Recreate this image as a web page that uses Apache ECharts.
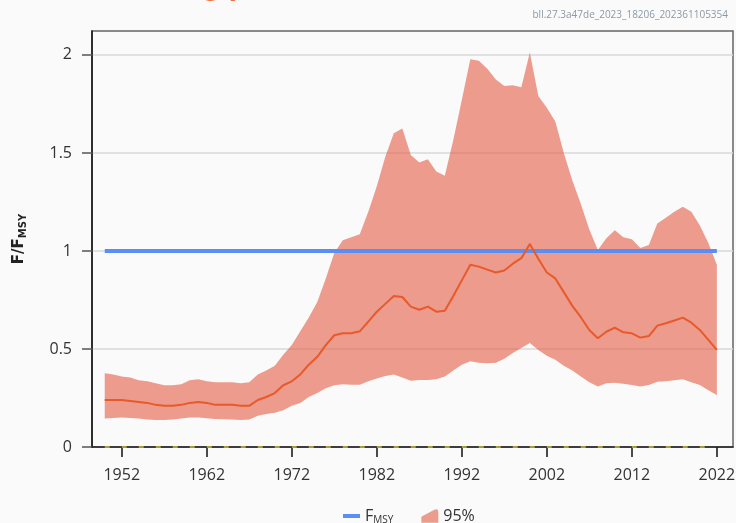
<!DOCTYPE html>
<html>
<head>
    <meta charset="UTF-8">
    <title>F/FMSY</title>
    <script src="https://cdn.jsdelivr.net/npm/echarts@6/dist/echarts.min.js"></script>
    <style>
        html, body { margin: 0; padding: 0; background: #fafafa; }
        #main { width: 736px; height: 523px; }
    </style>
</head>
<body>
    <div id="main"></div>
    <script type="text/javascript">
        // years of the assessment
        const years = [
            1950, 1951, 1952, 1953, 1954, 1955, 1956, 1957, 1958, 1959,
            1960, 1961, 1962, 1963, 1964, 1965, 1966, 1967, 1968, 1969,
            1970, 1971, 1972, 1973, 1974, 1975, 1976, 1977, 1978, 1979,
            1980, 1981, 1982, 1983, 1984, 1985, 1986, 1987, 1988, 1989,
            1990, 1991, 1992, 1993, 1994, 1995, 1996, 1997, 1998, 1999,
            2000, 2001, 2002, 2003, 2004, 2005, 2006, 2007, 2008, 2009,
            2010, 2011, 2012, 2013, 2014, 2015, 2016, 2017, 2018, 2019,
            2020, 2021, 2022
        ];
        // F/FMSY median
        const fMedian = [
            0.24, 0.24, 0.24, 0.235, 0.23, 0.225, 0.215, 0.21, 0.21, 0.215,
            0.225, 0.23, 0.225, 0.215, 0.215, 0.215, 0.21, 0.21, 0.24, 0.255,
            0.275, 0.315, 0.335, 0.37, 0.42, 0.46, 0.52, 0.57, 0.58, 0.58,
            0.59, 0.64, 0.69, 0.73, 0.77, 0.765, 0.716, 0.70, 0.716, 0.69,
            0.695, 0.77, 0.85, 0.93, 0.92, 0.905, 0.89, 0.90, 0.935, 0.963,
            1.035, 0.96, 0.89, 0.86, 0.79, 0.72, 0.662, 0.597, 0.555, 0.588,
            0.609, 0.585, 0.58, 0.558, 0.566, 0.619, 0.631, 0.645, 0.66, 0.634,
            0.597, 0.546, 0.495
        ];
        // 95% interval, upper bound
        const fHigh = [
            0.376, 0.37, 0.36, 0.355, 0.34, 0.335, 0.325, 0.315, 0.315, 0.32,
            0.34, 0.345, 0.335, 0.33, 0.33, 0.33, 0.325, 0.33, 0.37, 0.39,
            0.415, 0.47, 0.52, 0.59, 0.66, 0.74, 0.86, 0.99, 1.055, 1.07,
            1.085, 1.2, 1.33, 1.48, 1.60, 1.625, 1.49, 1.451, 1.468, 1.405,
            1.383, 1.566, 1.77, 1.978, 1.97, 1.93, 1.875, 1.842, 1.845, 1.835,
            2.012, 1.79, 1.73, 1.66, 1.50, 1.36, 1.24, 1.11, 1.005, 1.065,
            1.105, 1.07, 1.06, 1.015, 1.03, 1.14, 1.17, 1.2, 1.226, 1.2,
            1.13, 1.04, 0.93
        ];
        // 95% interval, lower bound
        const fLow = [
            0.146, 0.148, 0.15, 0.148, 0.145, 0.14, 0.138, 0.138, 0.14, 0.145,
            0.15, 0.15, 0.147, 0.143, 0.142, 0.14, 0.138, 0.14, 0.16, 0.168,
            0.175, 0.188, 0.21, 0.225, 0.255, 0.275, 0.30, 0.315, 0.32, 0.318,
            0.318, 0.335, 0.35, 0.362, 0.37, 0.355, 0.338, 0.342, 0.342, 0.345,
            0.36, 0.39, 0.42, 0.437, 0.43, 0.427, 0.43, 0.45, 0.48, 0.505,
            0.53, 0.495, 0.465, 0.445, 0.415, 0.39, 0.36, 0.33, 0.308, 0.325,
            0.328, 0.322, 0.316, 0.308, 0.316, 0.333, 0.336, 0.34, 0.345, 0.33,
            0.316, 0.29, 0.265
        ];
        const fmsy = 1;
        const flimZero = 0;
        const xTicks = [1952, 1962, 1972, 1982, 1992, 2002, 2012, 2022];
        const yTicks = [0, 0.5, 1, 1.5, 2];

        const chart = echarts.init(document.getElementById('main'), null, { renderer: 'canvas' });

        const pair = arr => years.map((y, i) => [y, arr[i]]);
        const bandColor = 'rgba(226,92,66,0.6)';

        // band polygon: upper bound left to right, then lower bound back
        function renderBand(params, api) {
            if (params.dataIndex !== 0) return;
            const pts = [];
            for (let i = 0; i < years.length; i++) pts.push(api.coord([years[i], fHigh[i]]));
            for (let i = years.length - 1; i >= 0; i--) pts.push(api.coord([years[i], fLow[i]]));
            return {
                type: 'polygon',
                shape: { points: pts },
                style: { fill: bandColor }
            };
        }

        const option = {
            backgroundColor: '#fafafa',
            animation: false,
            textStyle: { fontFamily: 'Open Sans' },
            grid: {
                left: 92, right: 3, top: 31, bottom: 76,
                outerBoundsMode: 'none',
                containLabel: false,
                show: true, borderColor: '#666', borderWidth: 1.5,
                backgroundColor: 'transparent'
            },
            graphic: [
                {
                    type: 'text', right: 8, top: 10,
                    style: {
                        text: 'bll.27.3a47de_2023_18206_202361105354', fill: '#8c99a6',
                        font: '10px "Liberation Sans Narrow", "Open Sans"'
                    }
                },
                {
                    type: 'text', left: 122, top: -22,
                    style: { text: 'Fishing pressure', fill: '#f2703f', font: 'bold 24px "DejaVu Sans"' }
                }
            ],
            legend: {
                left: 338, top: 503,
                itemWidth: 17, itemHeight: 14, itemGap: 28,
                textStyle: {
                    fontSize: 16, color: '#333',
                    rich: {
                        f: { fontSize: 16, color: '#333' },
                        sub: { fontSize: 10, color: '#333', padding: [8, 0, 0, 0] }
                    }
                },
                formatter: name => name === 'FMSY' ? '{f|F}{sub|MSY}' : name,
                data: [
                    { name: 'FMSY', icon: 'path://M0,0 H17 V4 H0 Z' },
                    { name: '95%', icon: 'path://M0,8 L13,1 Q17,-1 17,3 L17,14 L0,14 Z', itemStyle: { color: '#ec9c8b' } }
                ]
            },
            xAxis: {
                type: 'value',
                min: 1948.5,
                max: 2023.9,
                splitLine: { show: false },
                axisLine: { lineStyle: { color: '#111', width: 1.5 } },
                axisTick: { show: true, length: 10, customValues: xTicks, lineStyle: { color: '#111', width: 1.5 } },
                axisLabel: {
                    customValues: xTicks, margin: 20, fontSize: 16, color: '#333',
                    formatter: v => String(v)
                }
            },
            yAxis: {
                type: 'value',
                min: 0,
                max: 2.122,
                interval: 0.5,
                name: '{f|F/F}{sub|MSY}',
                nameLocation: 'middle',
                nameRotate: 90,
                nameGap: 64,
                nameTextStyle: {
                    rich: {
                        f: { fontSize: 15, fontWeight: 'bold', color: '#222', fontFamily: 'DejaVu Sans' },
                        sub: { fontSize: 10, fontWeight: 'bold', color: '#222', fontFamily: 'DejaVu Sans', padding: [7, 0, 0, 0] }
                    }
                },
                axisLine: { show: true, lineStyle: { color: '#111', width: 1.5 } },
                axisTick: { show: true, length: 10, customValues: yTicks, lineStyle: { color: '#555', width: 1.5 } },
                axisLabel: { customValues: yTicks, margin: 20, fontSize: 16, color: '#333' },
                splitLine: { show: true, lineStyle: { color: '#d9d9d9', width: 1.5 } }
            },
            series: [
                {
                    name: '95%', type: 'custom',
                    renderItem: renderBand,
                    data: years.map((y, i) => [y, fLow[i], fHigh[i]]),
                    encode: { x: 0, y: [1, 2] },
                    itemStyle: { color: '#ec9c8b' },
                    silent: true,
                    z: 2
                },
                {
                    name: 'FMSY', type: 'line',
                    data: [[years[0], fmsy], [years[years.length - 1], fmsy]],
                    symbol: 'none',
                    itemStyle: { color: '#5b8ef4' },
                    lineStyle: { color: '#5b8ef4', width: 4 },
                    z: 3
                },
                {
                    name: 'median', type: 'line',
                    data: pair(fMedian), symbol: 'none',
                    lineStyle: { color: '#e8592b', width: 2 },
                    z: 4
                },
                {
                    name: 'zero', type: 'line',
                    data: pair(years.map(() => flimZero)), symbol: 'none',
                    lineStyle: { color: '#a5a03a', width: 2, type: [5, 12] },
                    z: 5
                }
            ]
        };

        chart.setOption(option);
    </script>
</body>
</html>
